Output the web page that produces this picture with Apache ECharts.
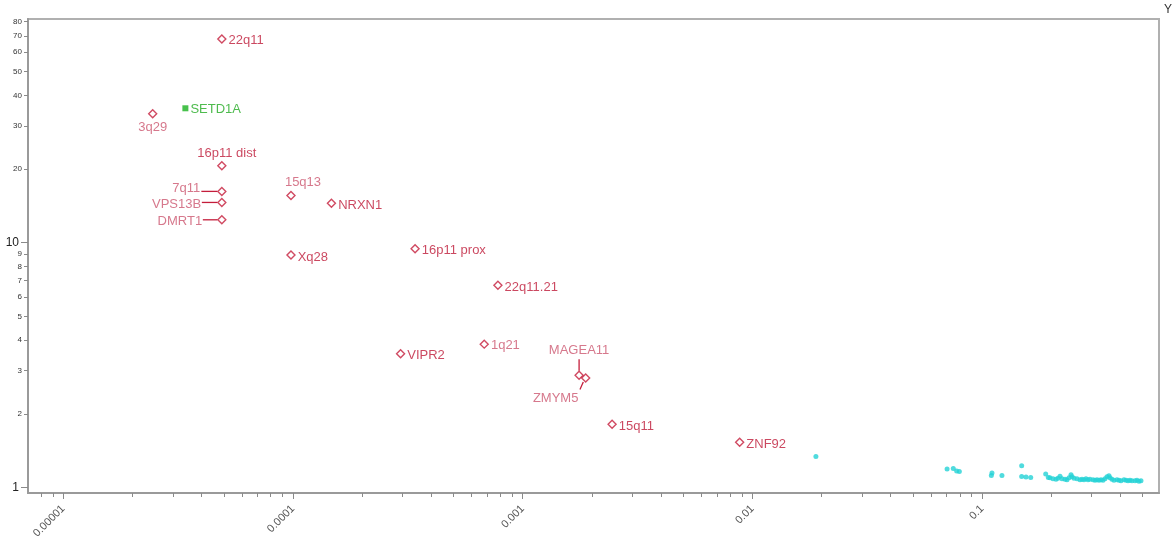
<!DOCTYPE html>
<html>
<head>
<meta charset="utf-8">
<title>CNV and gene odds ratios</title>
<script src="https://cdn.jsdelivr.net/npm/echarts@6/dist/echarts.min.js"></script>
<style>
  html, body { margin: 0; padding: 0; background: #fff; }
  #chart { width: 1175px; height: 544px; }
</style>
</head>
<body>
<div id="chart"></div>
<script>
// Named CNV / gene loci: P value (x) and odds ratio (y)
const cnvNames = ['22q11', '3q29', '16p11 dist', '7q11', 'VPS13B', 'DMRT1', '15q13', 'Xq28', 'NRXN1',
  '16p11 prox', '22q11.21', 'VIPR2', '1q21', 'MAGEA11', 'ZMYM5', '15q11', 'ZNF92'];
const cnvP = [4.9e-5, 2.45e-5, 4.9e-5, 4.9e-5, 4.9e-5, 4.9e-5, 9.8e-5, 9.8e-5, 1.47e-4,
  3.4e-4, 7.8e-4, 2.94e-4, 6.8e-4, 1.76e-3, 1.88e-3, 2.45e-3, 8.8e-3];
const cnvOR = [68, 33.6, 20.6, 16.2, 14.6, 12.4, 15.6, 8.9, 14.5,
  9.45, 6.7, 3.52, 3.85, 2.87, 2.8, 1.81, 1.53];

// Exome-wide gene hit
const geneNames = ['SETD1A'];
const geneP = [3.4e-5];
const geneOR = [35.4];

// Remaining loci (unlabelled): [P value, odds ratio]
const otherPoints = [
  [0.0189, 1.339], [0.0704, 1.189], [0.0749, 1.196], [0.0775, 1.167], [0.0796, 1.162],
  [0.1104, 1.145], [0.1097, 1.119], [0.122, 1.119], [0.1487, 1.227], [0.1487, 1.109],
  [0.1553, 1.103], [0.1628, 1.099], [0.1892, 1.134], [0.1942, 1.099],
  [0.1975, 1.095], [0.2035, 1.085], [0.2097, 1.080], [0.2140, 1.090], [0.2184, 1.111],
  [0.2228, 1.085], [0.2296, 1.080], [0.2342, 1.075], [0.2390, 1.095], [0.2438, 1.127],
  [0.2463, 1.106], [0.2513, 1.090], [0.2589, 1.085], [0.2668, 1.075], [0.2722, 1.080],
  [0.2777, 1.075], [0.2833, 1.085], [0.2891, 1.075], [0.2949, 1.080], [0.3040, 1.075],
  [0.3101, 1.070], [0.3164, 1.075], [0.3228, 1.070], [0.3293, 1.075], [0.3359, 1.070],
  [0.3427, 1.085], [0.3497, 1.106], [0.3567, 1.116], [0.3603, 1.095], [0.3676, 1.080],
  [0.3751, 1.070], [0.3866, 1.075], [0.3945, 1.070], [0.4024, 1.065], [0.4147, 1.075],
  [0.4231, 1.070], [0.4316, 1.065], [0.4404, 1.070], [0.4493, 1.065], [0.4630, 1.065],
  [0.4724, 1.070], [0.4819, 1.060], [0.4917, 1.065]
];

// Axis ticks
const xMajorTicks = [0.00001, 0.0001, 0.001, 0.01, 0.1];
const xTickLabels = ['0.00001', '0.0001', '0.001', '0.01', '0.1'];
const xMinorTicks = [8e-6, 9e-6,
  2e-5, 3e-5, 4e-5, 5e-5, 6e-5, 7e-5, 8e-5, 9e-5,
  2e-4, 3e-4, 4e-4, 5e-4, 6e-4, 7e-4, 8e-4, 9e-4,
  2e-3, 3e-3, 4e-3, 5e-3, 6e-3, 7e-3, 8e-3, 9e-3,
  0.02, 0.03, 0.04, 0.05, 0.06, 0.07, 0.08, 0.09,
  0.2, 0.3, 0.4, 0.5];
const yMajorTicks = [1, 10];
const yMinorTicks = [2, 3, 4, 5, 6, 7, 8, 9, 20, 30, 40, 50, 60, 70, 80];

const X_MIN = 7.02e-6, X_MAX = 0.589;
const Y_MIN = 0.949, Y_MAX = 82;

const FONT = '"Liberation Sans", Arial, Helvetica, sans-serif';
const RED = '#c41d3b';
const LABEL_STRONG = '#be1a38';
const LABEL_SOFT = '#cc566f';

// Per-label placement; `leader` is a pixel segment relative to the marker centre
const labelPlacement = {
  '22q11':      { position: 'right', distance: 2, offset: [0, 2] },
  '3q29':       { position: 'bottom', distance: 2, soft: true },
  '16p11 dist': { position: 'top', distance: 1, offset: [5, 0] },
  '7q11':       { position: 'left', distance: 17, offset: [0, -3], soft: true, leader: [[-20.5, 0], [-4.5, 0]] },
  'VPS13B':     { position: 'left', distance: 16, offset: [0, 2], soft: true, leader: [[-20, 0], [-4.5, 0]] },
  'DMRT1':      { position: 'left', distance: 15, offset: [0, 2], soft: true, leader: [[-19, 0], [-4.5, 0]] },
  '15q13':      { position: 'top', distance: 2, offset: [12, 0], soft: true },
  'Xq28':       { position: 'right', distance: 2, offset: [0, 2] },
  'NRXN1':      { position: 'right', distance: 2, offset: [0, 2] },
  '16p11 prox': { position: 'right', distance: 2, offset: [0, 2] },
  '22q11.21':   { position: 'right', distance: 2, offset: [0, 2] },
  'VIPR2':      { position: 'right', distance: 2, offset: [0, 2] },
  '1q21':       { position: 'right', distance: 2, offset: [0, 1], soft: true },
  'MAGEA11':    { position: 'top', distance: 14, soft: true, leader: [[0, -16], [0, -4.5]] },
  'ZMYM5':      { position: 'bottom', distance: 9, offset: [-30, 0], soft: true, leader: [[-2.4, 4], [-5.7, 11.5]] },
  '15q11':      { position: 'right', distance: 2, offset: [0, 2] },
  'ZNF92':      { position: 'right', distance: 2, offset: [0, 2] }
};

const cnvData = cnvNames.map(function (name, i) {
  const p = labelPlacement[name] || {};
  return {
    name: name,
    value: [cnvP[i], cnvOR[i]],
    label: {
      show: true,
      position: p.position || 'right',
      distance: p.distance != null ? p.distance : 2,
      offset: p.offset || [0, 0],
      color: p.soft ? LABEL_SOFT : LABEL_STRONG
    }
  };
});

// Loci whose label sits away from the marker get a short leader line
const leaderData = [];
cnvNames.forEach(function (name, i) {
  const p = labelPlacement[name];
  if (p && p.leader) leaderData.push({ name: name, value: [cnvP[i], cnvOR[i]] });
});

const geneData = geneNames.map(function (name, i) {
  return { name: name, value: [geneP[i], geneOR[i]] };
});

function xLabel(v) {
  let best = 0, bestD = Infinity;
  xMajorTicks.forEach(function (t, i) {
    const d = Math.abs(Math.log10(v) - Math.log10(t));
    if (d < bestD) { bestD = d; best = i; }
  });
  return xTickLabels[best];
}

const chart = echarts.init(document.getElementById('chart'), null, { renderer: 'canvas' });

chart.setOption({
  animation: false,
  backgroundColor: '#ffffff',
  textStyle: { fontFamily: FONT },
  graphic: [{
    type: 'text',
    right: 3,
    top: 4,
    style: { text: 'Y', fontSize: 12, fontFamily: FONT, fill: '#333' }
  }],
  grid: {
    left: 28, right: 16, top: 19, bottom: 51,
    show: true,
    borderColor: '#b0b0b0',
    borderWidth: 2,
    backgroundColor: 'transparent'
  },
  xAxis: [{
    type: 'log',
    logBase: 10,
    min: X_MIN,
    max: X_MAX,
    position: 'bottom',
    splitLine: { show: false },
    axisLine: { show: true, lineStyle: { color: '#9a9a9a', width: 2 } },
    axisTick: { show: true, length: 6, customValues: xMajorTicks, lineStyle: { color: '#8a8a8a', width: 1 } },
    axisLabel: {
      show: true,
      customValues: xMajorTicks,
      rotate: 45,
      margin: 14,
      fontSize: 11,
      color: '#555',
      fontFamily: FONT,
      formatter: xLabel
    }
  }, {
    type: 'log',
    logBase: 10,
    min: X_MIN,
    max: X_MAX,
    position: 'bottom',
    splitLine: { show: false },
    axisLine: { show: false },
    axisTick: { show: true, length: 4, customValues: xMinorTicks, lineStyle: { color: '#8a8a8a', width: 1 } },
    axisLabel: { show: false }
  }],
  yAxis: [{
    type: 'log',
    logBase: 10,
    min: Y_MIN,
    max: Y_MAX,
    position: 'left',
    splitLine: { show: false },
    axisLine: { show: true, lineStyle: { color: '#9a9a9a', width: 2 } },
    axisTick: { show: true, length: 7, customValues: yMajorTicks, lineStyle: { color: '#8a8a8a', width: 1 } },
    axisLabel: {
      show: true,
      customValues: yMajorTicks,
      margin: 9,
      fontSize: 12,
      color: '#222',
      fontFamily: FONT,
      formatter: function (v) { return String(Math.round(v)); }
    }
  }, {
    type: 'log',
    logBase: 10,
    min: Y_MIN,
    max: Y_MAX,
    position: 'left',
    splitLine: { show: false },
    axisLine: { show: false },
    axisTick: { show: true, length: 4, customValues: yMinorTicks, lineStyle: { color: '#8a8a8a', width: 1 } },
    axisLabel: {
      show: true,
      customValues: yMinorTicks,
      margin: 6,
      fontSize: 8,
      color: '#333',
      fontFamily: FONT,
      formatter: function (v) { return String(Math.round(v)); }
    }
  }],
  series: [{
    name: 'Other loci',
    type: 'scatter',
    xAxisIndex: 0,
    yAxisIndex: 0,
    symbol: 'circle',
    symbolSize: 5,
    itemStyle: { color: '#24d2d6' },
    data: otherPoints,
    z: 2
  }, {
    name: 'Leaders',
    type: 'custom',
    xAxisIndex: 0,
    yAxisIndex: 0,
    silent: true,
    data: leaderData,
    renderItem: function (params, api) {
      const name = leaderData[params.dataIndex].name;
      const seg = labelPlacement[name].leader;
      const c = api.coord([api.value(0), api.value(1)]);
      return {
        type: 'line',
        shape: {
          x1: c[0] + seg[0][0], y1: c[1] + seg[0][1],
          x2: c[0] + seg[1][0], y2: c[1] + seg[1][1]
        },
        style: { stroke: RED, lineWidth: 1.3 }
      };
    },
    z: 3
  }, {
    name: 'CNV',
    type: 'scatter',
    xAxisIndex: 0,
    yAxisIndex: 0,
    symbol: 'diamond',
    symbolSize: [8, 8],
    itemStyle: { color: '#ffffff', borderColor: RED, borderWidth: 1.4 },
    label: {
      show: true,
      fontSize: 13,
      fontFamily: FONT,
      formatter: '{b}'
    },
    data: cnvData,
    z: 4
  }, {
    name: 'Gene',
    type: 'scatter',
    xAxisIndex: 0,
    yAxisIndex: 0,
    symbol: 'rect',
    symbolSize: 6,
    itemStyle: { color: '#19b21f' },
    label: {
      show: true,
      position: 'right',
      distance: 2,
      offset: [0, 1],
      fontSize: 13,
      fontFamily: FONT,
      color: '#22aa22',
      formatter: '{b}'
    },
    data: geneData,
    z: 4
  }]
});
</script>
</body>
</html>
